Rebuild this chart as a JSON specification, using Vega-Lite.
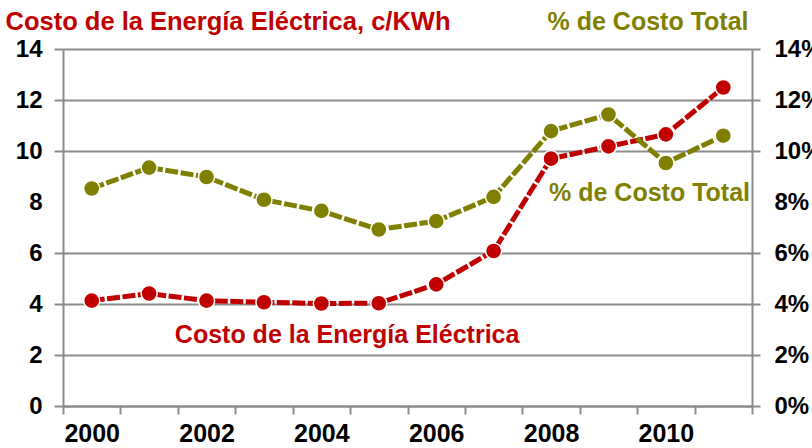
{
  "$schema": "https://vega.github.io/schema/vega-lite/v6.json",
  "width": 689,
  "height": 357,
  "autosize": {"type": "none"},
  "padding": {"left": 63, "top": 49, "right": 60, "bottom": 42},
  "background": "white",
  "config": {"view": {"stroke": null}, "font": "Liberation Sans"},
  "datasets": {
    "cost": [
      {"year": 2000, "v": 4.13}, {"year": 2001, "v": 4.41}, {"year": 2002, "v": 4.13},
      {"year": 2003, "v": 4.07}, {"year": 2004, "v": 4.02}, {"year": 2005, "v": 4.03},
      {"year": 2006, "v": 4.77}, {"year": 2007, "v": 6.08}, {"year": 2008, "v": 9.7},
      {"year": 2009, "v": 10.18}, {"year": 2010, "v": 10.65}, {"year": 2011, "v": 12.49}
    ],
    "pct": [
      {"year": 2000, "v": 8.53}, {"year": 2001, "v": 9.35}, {"year": 2002, "v": 8.98},
      {"year": 2003, "v": 8.09}, {"year": 2004, "v": 7.65}, {"year": 2005, "v": 6.92},
      {"year": 2006, "v": 7.25}, {"year": 2007, "v": 8.2}, {"year": 2008, "v": 10.78},
      {"year": 2009, "v": 11.43}, {"year": 2010, "v": 9.53}, {"year": 2011, "v": 10.6}
    ],
    "costLabel": [{"year": 2002, "v": 2.77, "t": "Costo de la Energía Eléctrica"}],
    "pctLabel": [{"year": 2011, "v": 8.34, "t": "% de Costo Total"}]
  },
  "encoding": {
    "x": {
      "field": "year", "type": "ordinal",
      "scale": {"type": "band", "paddingInner": 0, "paddingOuter": 0,
        "domain": [2000,2001,2002,2003,2004,2005,2006,2007,2008,2009,2010,2011]},
      "axis": {
        "title": null, "labelAngle": 0, "tickBand": "extent",
        "labelExpr": "datum.value % 2 == 0 ? datum.label : ''",
        "labelFont": "Liberation Sans", "labelFontWeight": "bold", "labelFontSize": 25,
        "labelColor": "#000000", "labelPadding": 7, "tickSize": 8,
        "domainColor": "#8a8a8a", "domainWidth": 2, "tickColor": "#8a8a8a", "tickWidth": 2,
        "grid": false
      }
    }
  },
  "layer": [
    {
      "layer": [
        {
          "data": {"name": "cost"},
          "mark": {"type": "line", "color": "#C00000", "strokeWidth": 5, "strokeDash": [13, 2.5]},
          "encoding": {"x": {"field": "year", "type": "ordinal", "bandPosition": 0.5}, "y": {"field": "v", "type": "quantitative"}}
        },
        {
          "data": {"name": "cost"},
          "mark": {"type": "point", "filled": true, "color": "#C00000", "size": 260, "stroke": "white", "strokeWidth": 1.5, "opacity": 1},
          "encoding": {"x": {"field": "year", "type": "ordinal", "bandPosition": 0.5}, "y": {"field": "v", "type": "quantitative"}}
        },
        {
          "data": {"name": "costLabel"},
          "mark": {"type": "text", "align": "left", "baseline": "middle", "color": "#C00000", "fontSize": 25, "fontWeight": "bold", "font": "Liberation Sans", "dx": -3},
          "encoding": {"x": {"field": "year", "type": "ordinal", "bandPosition": 0}, "y": {"field": "v", "type": "quantitative"}, "text": {"field": "t"}}
        }
      ],
      "encoding": {
        "y": {
          "field": "v", "type": "quantitative",
          "scale": {"domain": [0, 14], "nice": false, "zero": true},
          "axis": {
            "orient": "left", "values": [0,2,4,6,8,10,12,14],
            "labelFont": "Liberation Sans", "labelFontWeight": "bold", "labelFontSize": 24,
            "labelColor": "#000000", "labelPadding": 12, "tickSize": 9,
            "domainColor": "#8a8a8a", "domainWidth": 2,
            "tickColor": {"condition": {"test": "datum.value === 8", "value": "rgba(0,0,0,0)"}, "value": "#8a8a8a"},
            "tickWidth": 2,
            "grid": true,
            "gridColor": {"condition": {"test": "datum.value === 8", "value": "rgba(0,0,0,0)"}, "value": "#8c8c8c"},
            "gridWidth": 2,
            "title": "Costo de la Energía Eléctrica, c/KWh",
            "titleAngle": 0, "titleX": -58, "titleY": -20, "titleAlign": "left", "titleBaseline": "alphabetic",
            "titleColor": "#C00000", "titleFont": "Liberation Sans", "titleFontSize": 25.5, "titleFontWeight": "bold"
          }
        }
      }
    },
    {
      "layer": [
        {
          "data": {"name": "pct"},
          "mark": {"type": "line", "color": "#7F7F00", "strokeWidth": 5, "strokeDash": [13, 2.5]},
          "encoding": {"x": {"field": "year", "type": "ordinal", "bandPosition": 0.5}, "y": {"field": "v", "type": "quantitative"}}
        },
        {
          "data": {"name": "pct"},
          "mark": {"type": "point", "filled": true, "color": "#7F7F00", "size": 260, "stroke": "white", "strokeWidth": 1.5, "opacity": 1},
          "encoding": {"x": {"field": "year", "type": "ordinal", "bandPosition": 0.5}, "y": {"field": "v", "type": "quantitative"}}
        },
        {
          "data": {"name": "pctLabel"},
          "mark": {"type": "text", "align": "right", "baseline": "middle", "color": "#7F7F00", "fontSize": 25, "fontWeight": "bold", "font": "Liberation Sans", "dx": -2},
          "encoding": {"x": {"field": "year", "type": "ordinal", "bandPosition": 1}, "y": {"field": "v", "type": "quantitative"}, "text": {"field": "t"}}
        }
      ],
      "encoding": {
        "y": {
          "field": "v", "type": "quantitative",
          "scale": {"domain": [0, 14], "nice": false, "zero": true},
          "axis": {
            "orient": "right", "values": [0,2,4,6,8,10,12,14],
            "labelExpr": "datum.value + '%'",
            "labelFont": "Liberation Sans", "labelFontWeight": "bold", "labelFontSize": 24,
            "labelColor": "#000000", "labelPadding": 14, "tickSize": 8,
            "domainColor": "#8a8a8a", "domainWidth": 2,
            "tickColor": {"condition": {"test": "datum.value === 8", "value": "rgba(0,0,0,0)"}, "value": "#8a8a8a"},
            "tickWidth": 2,
            "grid": false,
            "title": "% de Costo Total",
            "titleAngle": 0, "titleX": -4, "titleY": -20, "titleAlign": "right", "titleBaseline": "alphabetic",
            "titleColor": "#7F7F00", "titleFont": "Liberation Sans", "titleFontSize": 25, "titleFontWeight": "bold"
          }
        }
      }
    }
  ],
  "resolve": {"scale": {"y": "independent"}}
}
